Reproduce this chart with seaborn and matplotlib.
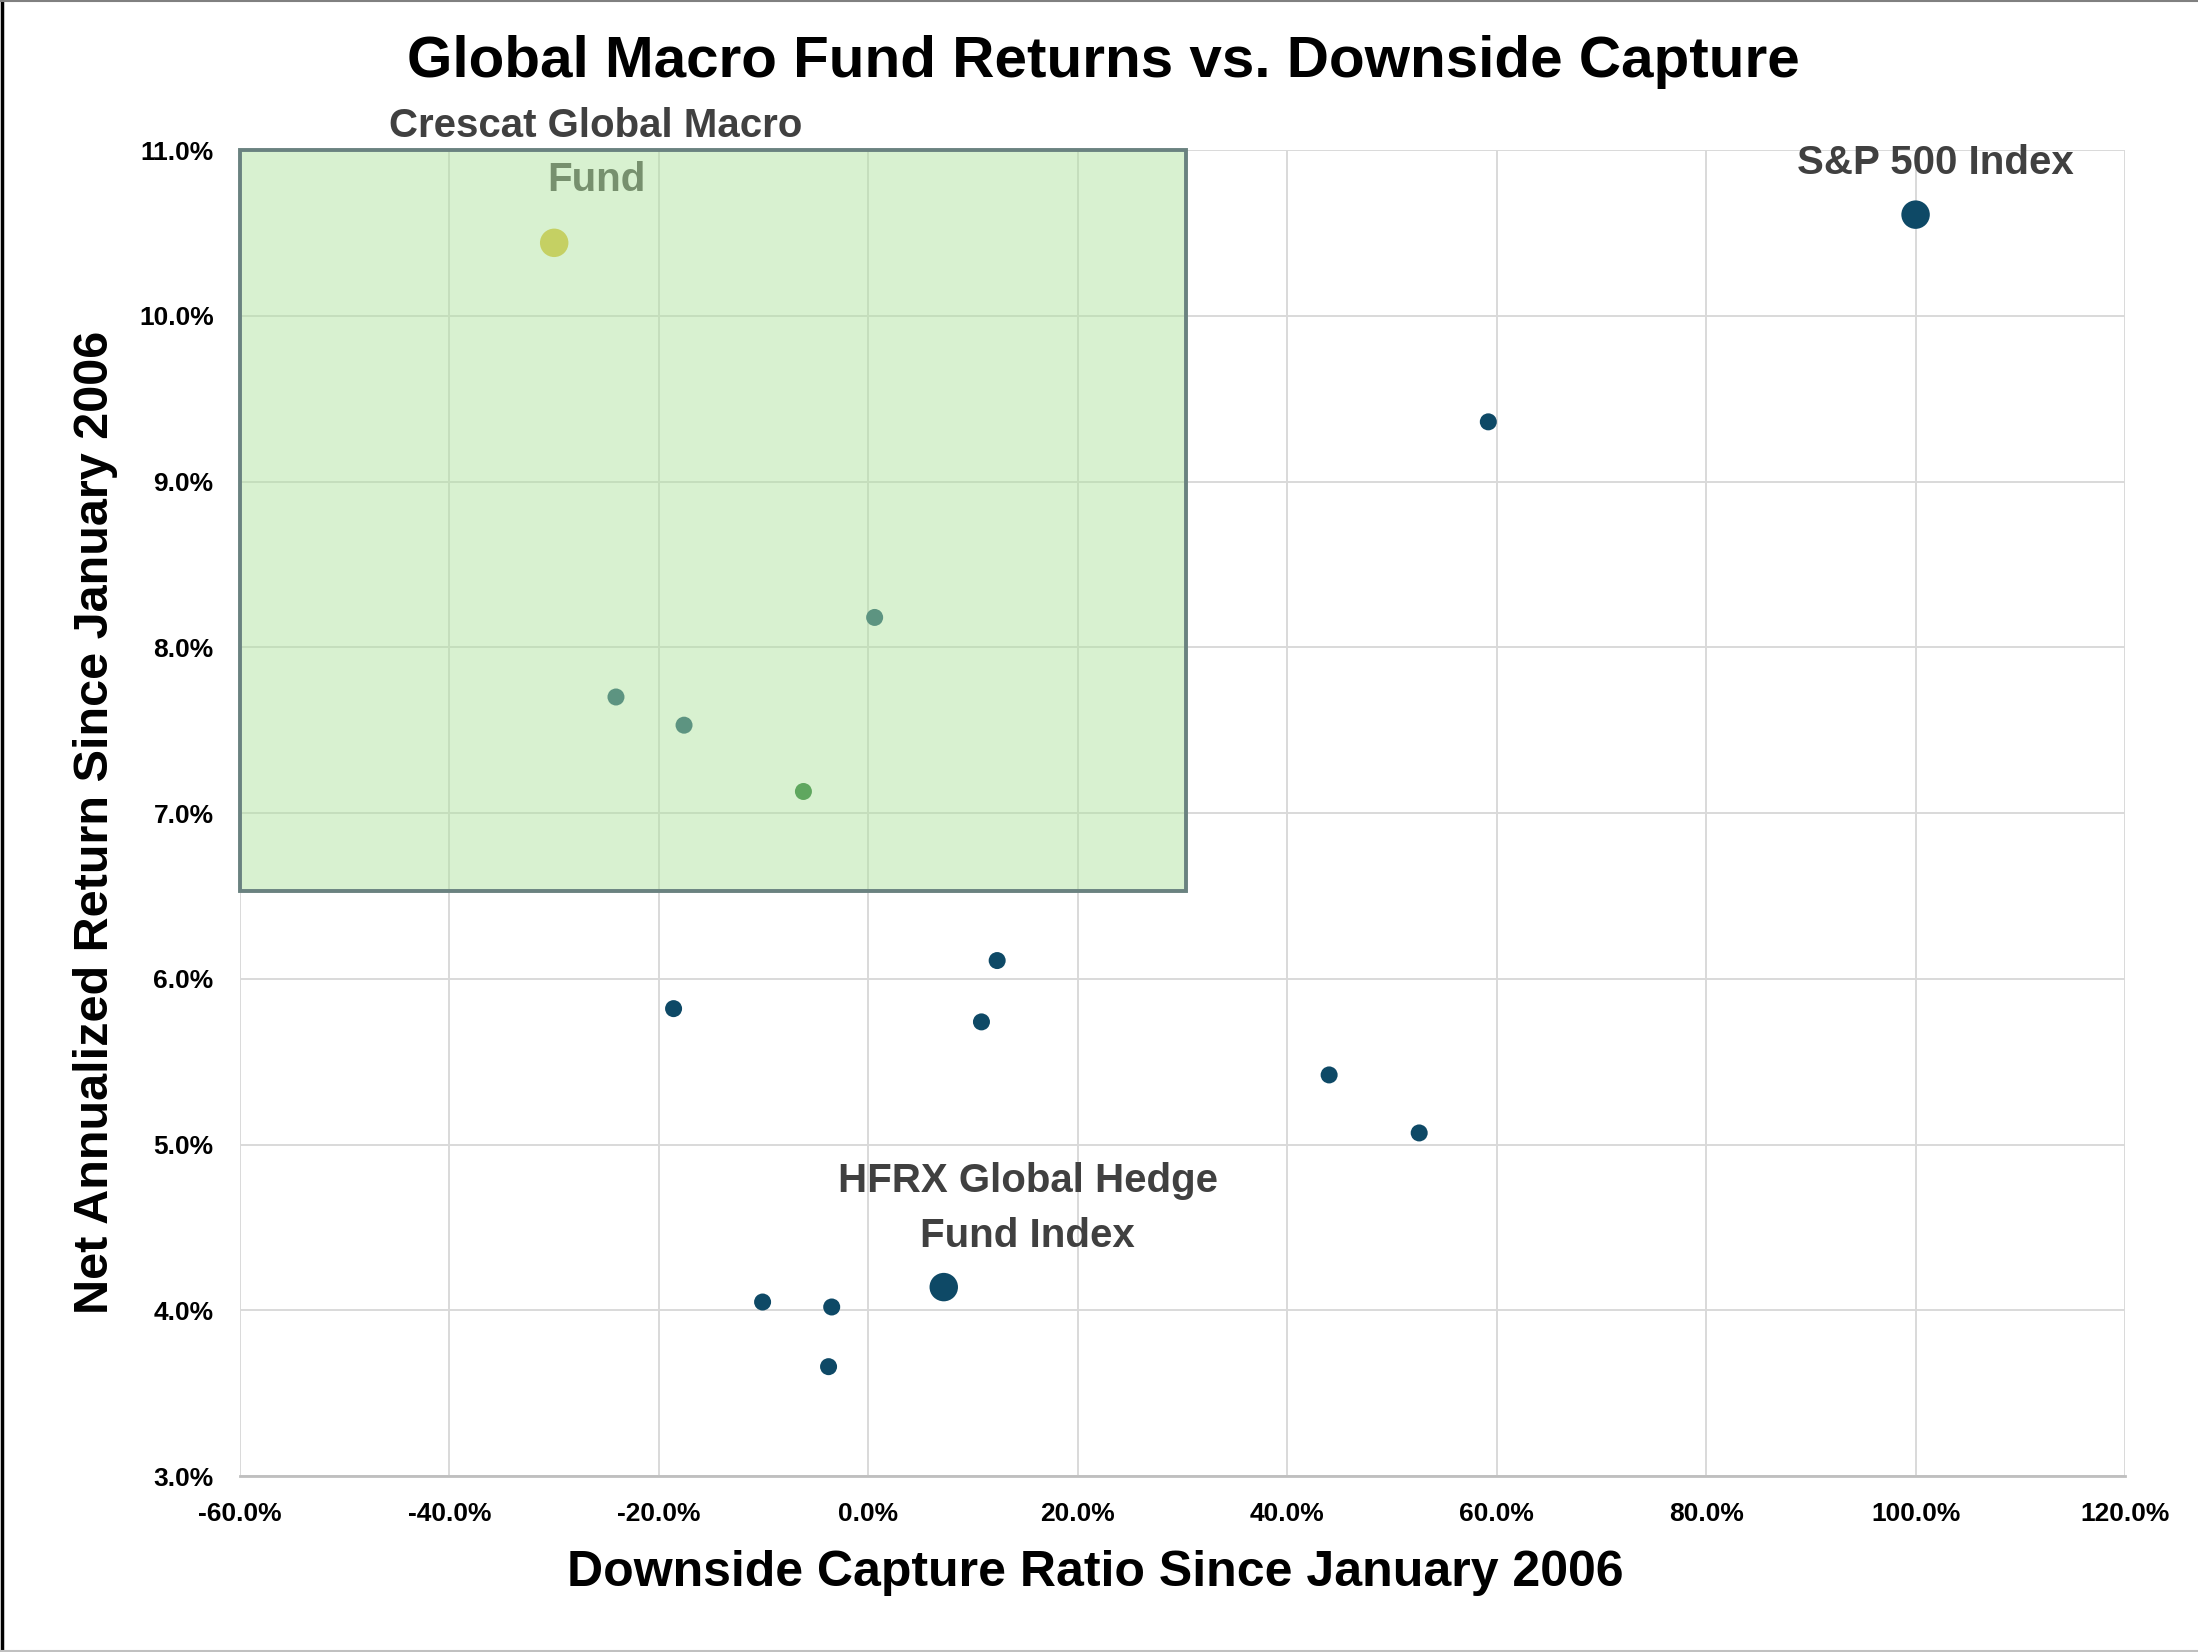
import matplotlib
matplotlib.use('Agg')
import pandas as pd
import matplotlib.pyplot as plt
import seaborn as sns
from matplotlib.patches import Rectangle
from matplotlib.lines import Line2D

# values (percent)
downside = [-30.0, 100.0, 7.2, 59.2, 0.6, -24.1, -17.6, -6.2, 12.3, -18.6, 10.8, 44.0, 52.6, -10.1, -3.5, -3.8]
returns = [10.44, 10.61, 4.14, 9.36, 8.18, 7.70, 7.53, 7.13, 6.11, 5.82, 5.74, 5.42, 5.07, 4.05, 4.02, 3.66]
group = ['crescat', 'index', 'index', 'peer', 'peer', 'peer', 'peer', 'green', 'peer', 'peer', 'peer', 'peer', 'peer', 'peer', 'peer', 'peer']

x_ticks = [-60, -40, -20, 0, 20, 40, 60, 80, 100, 120]
y_ticks = [3, 4, 5, 6, 7, 8, 9, 10, 11]

title = 'Global Macro Fund Returns vs. Downside Capture'
x_label = 'Downside Capture Ratio Since January 2006'
y_label = 'Net Annualized Return Since January 2006'

df = pd.DataFrame({'downside': downside, 'ret': returns, 'group': group})

sns.set_theme(style='whitegrid')
plt.rcParams['font.family'] = ['Liberation Sans', 'DejaVu Sans']

fig = plt.figure(figsize=(21.98, 16.52), dpi=100)
ax = fig.add_axes([0.1092, 0.1065, 0.8576, 0.8027])

palette = {'crescat': '#dabd2b', 'index': '#0e4966', 'peer': '#0e4966', 'green': '#126e23'}
sizes = {'crescat': 420, 'index': 420, 'peer': 150, 'green': 150}
sns.scatterplot(data=df, x='downside', y='ret', hue='group', size='group',
                palette=palette, sizes=sizes, linewidth=0, legend=False,
                ax=ax, zorder=2)

# highlighted region (drawn over the points, semi transparent)
ax.add_patch(Rectangle((-60, 6.53), 90.3, 4.47, facecolor='#b1e49f', alpha=0.49,
                       edgecolor='none', zorder=3))
ax.add_patch(Rectangle((-60, 6.53), 90.3, 4.47, facecolor='none',
                       edgecolor='#6a8280', lw=2.8, zorder=4, clip_on=False))

ax.set_xlim(-60, 120)
ax.set_ylim(3, 11)
ax.set_xticks(x_ticks)
ax.set_yticks(y_ticks)
ax.set_xticklabels([f'{v:.1f}%' for v in x_ticks])
ax.set_yticklabels([f'{v:.1f}%' for v in y_ticks])
ax.tick_params(axis='both', length=0, labelsize=19, pad=19, labelcolor='black')
for lab in ax.get_xticklabels() + ax.get_yticklabels():
    lab.set_fontweight('bold')
ax.grid(True, color='#d9d9d9', lw=1.4)
ax.set_axisbelow(True)
for side in ['top', 'right', 'left']:
    ax.spines[side].set_visible(False)
ax.spines['bottom'].set_color('#bfbfbf')
ax.spines['bottom'].set_linewidth(2)

ax.set_xlabel(x_label, fontsize=36, fontweight='bold', color='black')
ax.xaxis.set_label_coords(0.4535, -0.0729)
ax.xaxis.label.set_va('center')
ax.set_ylabel(y_label, fontsize=35, fontweight='bold', color='black')
ax.yaxis.set_label_coords(-0.0766, 0.4926)
ax.yaxis.label.set_va('center')

fig.text(0.502, 0.9627, title, ha='center', va='center', fontsize=42, fontweight='bold', color='black')

lab_kw = dict(ha='center', va='center', fontsize=29, fontweight='bold', color='#404040')
ax.text(-26, 10.983, 'Crescat Global Macro\nFund', linespacing=1.55, zorder=2.5, clip_on=False, **lab_kw)
ax.text(101.9, 10.92, 'S&P 500 Index', zorder=5, clip_on=False, **lab_kw)
ax.text(15.2, 4.615, 'HFRX Global Hedge\nFund Index', linespacing=1.55, zorder=5, **lab_kw)

# outer frame
fig.add_artist(Line2D([0.0007, 0.0007], [0, 1], transform=fig.transFigure, color='black', lw=2.5))
fig.add_artist(Line2D([0, 1], [0.9995, 0.9995], transform=fig.transFigure, color='#808080', lw=1.5))
fig.add_artist(Line2D([0, 1], [0.0006, 0.0006], transform=fig.transFigure, color='#c0c0c0', lw=1.5))

fig.savefig('out.png', dpi=100)
